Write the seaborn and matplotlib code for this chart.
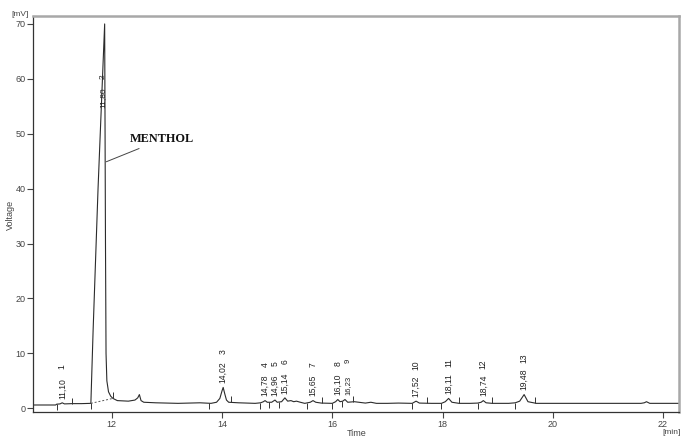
import numpy as np
import matplotlib
matplotlib.use("Agg")
import matplotlib.pyplot as plt
import seaborn as sns

# chromatogram trace (time in min, signal in mV)
rt = [10.57, 10.98, 11.0, 11.06, 11.10, 11.14, 11.28, 11.45, 11.62, 11.66, 11.75, 11.87,
      11.885, 11.895, 11.91, 11.94, 11.98, 12.02, 12.1, 12.3, 12.42, 12.47, 12.50, 12.53,
      12.58, 12.8, 13.2, 13.6, 13.8, 13.9, 13.96, 14.0, 14.02, 14.05, 14.08, 14.12, 14.3,
      14.6, 14.7, 14.75, 14.78, 14.82, 14.9, 14.96, 15.0, 15.08, 15.14, 15.19, 15.25, 15.3,
      15.35, 15.42, 15.5, 15.6, 15.65, 15.7, 15.8, 16.0, 16.06, 16.10, 16.14, 16.19, 16.23,
      16.28, 16.4, 16.6, 16.7, 16.8, 17.0, 17.2, 17.45, 17.52, 17.58, 17.8, 17.98, 18.05,
      18.11, 18.17, 18.3, 18.5, 18.64, 18.7, 18.74, 18.79, 18.9, 19.2, 19.32, 19.4, 19.48,
      19.55, 19.7, 20.5, 21.6, 21.66, 21.7, 21.76, 22.29]
mv = [0.6, 0.6, 0.75, 0.8, 1.0, 0.8, 0.85, 0.85, 0.9, 14, 40, 70,
      30, 10, 5, 3, 2.2, 1.8, 1.4, 1.3, 1.5, 1.9, 2.5, 1.4,
      1.1, 1.0, 0.9, 1.0, 0.9, 1.1, 1.8, 3.2, 3.8, 2.6, 1.5, 1.1, 1.0,
      0.9, 1.0, 1.2, 1.4, 1.1, 1.1, 1.5, 1.1, 1.2, 1.9, 1.3, 1.4, 1.2,
      1.3, 1.1, 0.9, 1.1, 1.4, 1.1, 0.95, 0.9, 1.2, 1.6, 1.2, 1.3, 1.6,
      1.1, 1.2, 0.95, 1.1, 0.9, 0.9, 0.95, 0.9, 1.3, 0.95, 0.9, 0.9, 1.2,
      1.8, 1.1, 0.9, 0.9, 0.95, 1.1, 1.4, 1.0, 0.9, 0.9, 1.0, 1.3, 2.5,
      1.2, 0.9, 0.9, 0.9, 1.0, 1.2, 0.9, 0.9]

# labelled peaks (main peak no. 2 is labelled separately)
peak_no = ["1", "3", "4", "5", "6", "7", "8", "9", "10", "11", "12", "13"]
peak_rt = [11.10, 14.02, 14.78, 14.96, 15.14, 15.65, 16.10, 16.23, 17.52, 18.11, 18.74, 19.48]
peak_txt = ["11,10", "14,02", "14,78", "14,96", "15,14", "15,65", "16,10", "16,23",
            "17,52", "18,11", "18,74", "19,48"]
main_no, main_rt, main_txt = "2", 11.87, "11,80"

# integration start / end marks
start_marks = [11.0, 11.62, 13.76, 14.68, 14.86, 15.03, 15.55, 16.0, 16.18, 17.45, 17.98,
               18.64, 19.32]
end_marks = [11.28, 12.02, 14.16, 15.81, 16.37, 17.72, 18.29, 18.90, 19.68]

# menthol baseline under main peak
base_rt = [11.62, 12.02]
base_mv = [0.9, 1.8]

sns.set_style("ticks")
plt.rcParams["font.family"] = ["Liberation Sans", "DejaVu Sans"]

fig = plt.figure(figsize=(6.82, 4.38), dpi=100)
ax = fig.add_axes([33 / 682, 1 - 412.3 / 438, 646 / 682, 396.6 / 438])

sns.lineplot(x=rt, y=mv, sort=False, estimator=None, color="#2b2b2b", linewidth=0.8, ax=ax)
ax.plot(base_rt, base_mv, color="#555555", linewidth=0.7, linestyle=(0, (2, 2)))

trace_start = np.interp(start_marks, rt, mv)
trace_end = np.interp(end_marks, rt, mv)
ax.vlines(start_marks, trace_start - 1.1, trace_start, color="#333333", linewidth=0.7)
ax.vlines(end_marks, trace_end, trace_end + 1.1, color="#333333", linewidth=0.7)

prev = None
for no, t, txt in zip(peak_no, peak_rt, peak_txt):
    h = np.interp(t, rt, mv)
    # crowded neighbours get a smaller label nudged to the right
    crowded = prev is not None and t - prev < 0.15
    fs = 5.5 if crowded else 6.2
    dx = 2.5 if crowded else 0
    ax.annotate(txt, (t, h), xytext=(dx, 3), textcoords="offset points",
                rotation=90, ha="center", va="bottom", fontsize=fs, color="#222222")
    ax.annotate(no, (t, h), xytext=(dx, 28 if crowded else 26), textcoords="offset points",
                rotation=90, ha="center", va="center", fontsize=fs, color="#222222")
    prev = t

ax.text(main_rt - 0.03, 56.6, main_txt, rotation=90, ha="center", va="center",
        fontsize=6, color="#222222")
ax.text(main_rt - 0.03, 60.4, main_no, rotation=90, ha="center", va="center",
        fontsize=6, color="#222222")

ax.annotate("MENTHOL", xy=(11.90, 44.9), xytext=(12.33, 49.0),
            fontsize=8.8, family="Liberation Serif", fontweight="bold", color="#111111",
            ha="left", va="center",
            arrowprops=dict(arrowstyle="-", color="#444444", linewidth=0.7,
                            shrinkA=0, shrinkB=0))

ax.set_xlim(10.57, 22.29)
ax.set_ylim(-0.73, 71.5)
ax.set_xticks([12, 14, 16, 18, 20, 22])
ax.set_yticks([0, 10, 20, 30, 40, 50, 60, 70])
ax.tick_params(direction="out", length=4, width=0.8, labelsize=6.5,
               labelcolor="#444444", color="#444444", pad=1.5)

for s in ["left", "bottom"]:
    ax.spines[s].set_color("#333333")
    ax.spines[s].set_linewidth(0.9)
for s in ["top", "right"]:
    ax.spines[s].set_visible(True)
    ax.spines[s].set_color("#a8a8a8")
    ax.spines[s].set_linewidth(1.8)

ax.set_xlabel("")
ax.set_ylabel("")
fig.text(10 / 682, 1 - 215 / 438, "Voltage", rotation=90, ha="center", va="center",
         fontsize=6.5, color="#444444")
fig.text(357 / 682, 1 - 433 / 438, "Time", ha="center", va="center",
         fontsize=6.5, color="#444444")
fig.text(20 / 682, 1 - 14 / 438, "[mV]", ha="center", va="center",
         fontsize=6, color="#444444")
fig.text(681 / 682, 1 - 433 / 438, "[min]", ha="right", va="center",
         fontsize=6, color="#444444")

fig.savefig("out.png", dpi=100)
plt.close(fig)
